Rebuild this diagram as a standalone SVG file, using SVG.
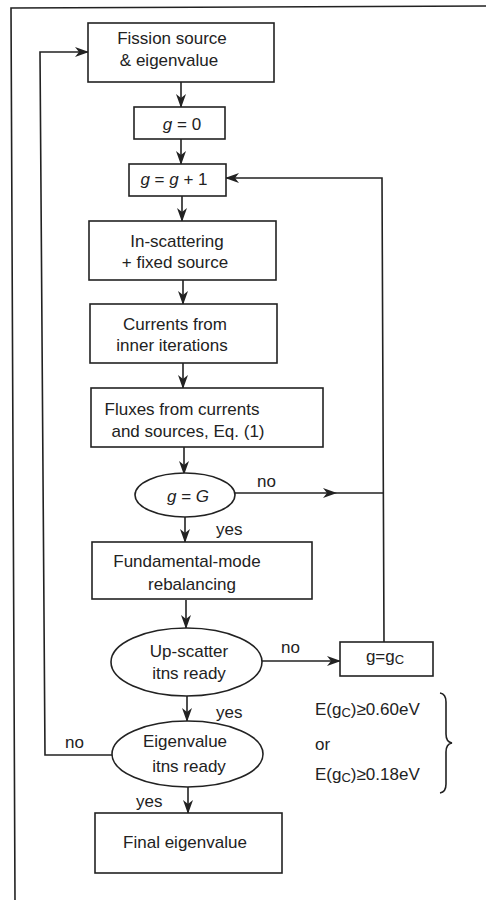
<svg xmlns="http://www.w3.org/2000/svg" width="486" height="900" viewBox="0 0 486 900">
<style>
.b{fill:#fff;stroke:#222;stroke-width:1.6}
.t{font-family:"Liberation Sans",Arial,sans-serif;font-size:17px;fill:#222;text-anchor:middle}
.l{font-family:"Liberation Sans",Arial,sans-serif;font-size:17px;fill:#222}
.c{fill:none;stroke:#222;stroke-width:1.6}
.i{font-style:italic}
</style>
<defs>
<marker id="a" viewBox="0 0 14 10" refX="13" refY="5" markerWidth="14" markerHeight="10" markerUnits="userSpaceOnUse" orient="auto">
<path d="M0,0 L14,5 L0,10 L4,5 z" fill="#222"/>
</marker>
<marker id="m" viewBox="0 0 14 10" refX="7" refY="5" markerWidth="14" markerHeight="10" markerUnits="userSpaceOnUse" orient="auto">
<path d="M0,0 L14,5 L0,10 L4,5 z" fill="#222"/>
</marker>
</defs>
<rect width="486" height="900" fill="#fff"/>
<g id="frame">
<path class="c" d="M486,6 L11,8 L15,900"/>
</g>
<g id="connectors">
<line class="c" x1="181" y1="82" x2="181" y2="107" marker-end="url(#a)"/>
<line class="c" x1="181" y1="139" x2="181" y2="164" marker-end="url(#a)"/>
<line class="c" x1="182" y1="196" x2="182" y2="221" marker-end="url(#a)"/>
<line class="c" x1="183" y1="280" x2="183" y2="304" marker-end="url(#a)"/>
<line class="c" x1="183" y1="363" x2="183" y2="388" marker-end="url(#a)"/>
<line class="c" x1="184" y1="447" x2="184" y2="474" marker-end="url(#a)"/>
<line class="c" x1="185" y1="517" x2="185" y2="542" marker-end="url(#a)"/>
<line class="c" x1="186" y1="600" x2="186" y2="628" marker-end="url(#a)"/>
<line class="c" x1="187" y1="696" x2="187" y2="721" marker-end="url(#a)"/>
<line class="c" x1="188" y1="787" x2="188" y2="813" marker-end="url(#a)"/>
<polyline class="c" points="384,642 382,178 226,178" marker-end="url(#a)"/>
<polyline class="c" points="235,493 330,493 383,493" marker-mid="url(#m)"/>
<line class="c" x1="262" y1="661" x2="340" y2="661" marker-end="url(#a)"/>
<polyline class="c" points="112,755 45,755 40,52 88,52" marker-end="url(#a)"/>
<path class="c" d="M440,693 Q446,694 446,702 L446,734 Q446,742 452,743 Q446,744 446,752 L446,784 Q446,792 440,793"/>
</g>
<g id="n1"><rect class="b" x="88" y="23" width="186" height="59"/>
<text class="t" x="172" y="44">Fission source</text><text class="t" x="169" y="66">&amp; eigenvalue</text></g>
<g id="n2"><rect class="b" x="134" y="107" width="91" height="32"/>
<text class="t" x="182" y="130"><tspan class="i">g</tspan> = 0</text></g>
<g id="n3"><rect class="b" x="129" y="164" width="97" height="32"/>
<text class="t" x="174" y="185"><tspan class="i">g</tspan> = <tspan class="i">g</tspan> + 1</text></g>
<g id="n4"><rect class="b" x="89" y="221" width="187" height="59"/>
<text class="t" x="177" y="247">In-scattering</text><text class="t" x="175" y="268">+ fixed source</text></g>
<g id="n5"><rect class="b" x="90" y="304" width="187" height="59"/>
<text class="t" x="175" y="330">Currents from</text><text class="t" x="172" y="351">inner iterations</text></g>
<g id="n6"><rect class="b" x="91" y="388" width="232" height="59"/>
<text class="t" x="182" y="415">Fluxes from currents</text><text class="t" x="188" y="437">and sources, Eq. (1)</text></g>
<g id="n7"><ellipse class="b" cx="185" cy="495" rx="50" ry="22"/>
<text class="t" x="188" y="502"><tspan class="i">g</tspan> = <tspan class="i">G</tspan></text>
<text class="l" x="257" y="487">no</text><text class="l" x="216" y="535">yes</text></g>
<g id="n8"><rect class="b" x="92" y="542" width="220" height="57"/>
<text class="t" x="187" y="567">Fundamental-mode</text><text class="t" x="192" y="590">rebalancing</text></g>
<g id="n9"><ellipse class="b" cx="186.5" cy="662" rx="75.5" ry="34"/>
<text class="t" x="189" y="657">Up-scatter</text><text class="t" x="189" y="679">itns ready</text>
<text class="l" x="281" y="653">no</text><text class="l" x="216" y="718">yes</text></g>
<g id="n10"><rect class="b" x="340" y="642" width="93" height="34"/>
<text class="t" x="385" y="662">g=g<tspan font-size="13" dy="2">C</tspan></text></g>
<g id="n11"><ellipse class="b" cx="187.5" cy="754" rx="75.5" ry="33"/>
<text class="t" x="185" y="747">Eigenvalue</text><text class="t" x="189" y="772">itns ready</text>
<text class="l" x="65" y="748">no</text><text class="l" x="136" y="807">yes</text></g>
<g id="n12"><rect class="b" x="95" y="813" width="187" height="60"/>
<text class="t" x="185" y="848">Final eigenvalue</text></g>
<g id="notes">
<text class="l" x="315" y="715">E(g<tspan font-size="13" dy="2">C</tspan><tspan dy="-2">)≥0.60eV</tspan></text>
<text class="l" x="315" y="750">or</text>
<text class="l" x="315" y="780">E(g<tspan font-size="13" dy="2">C</tspan><tspan dy="-2">)≥0.18eV</tspan></text>
</g>
</svg>
